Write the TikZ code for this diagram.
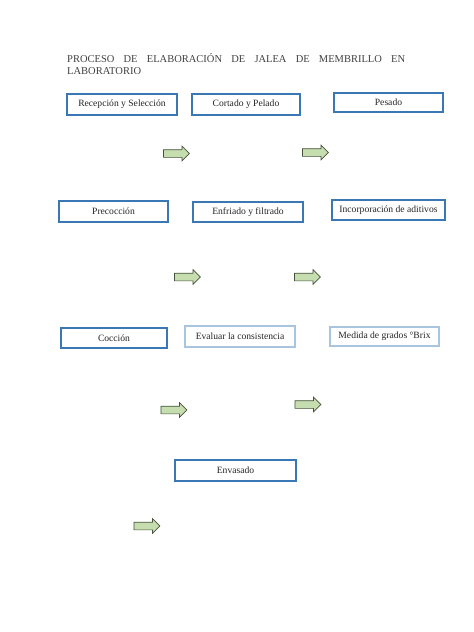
\documentclass[tikz,border=0pt]{standalone}
\usepackage{fontspec}
\setmainfont{Liberation Serif}
\usetikzlibrary{shapes.arrows}
\definecolor{boxblue}{HTML}{3A78B5}
\definecolor{lightblue}{HTML}{A9C4DE}
\definecolor{arrowfill}{HTML}{C6DDB0}
\definecolor{arrowline}{HTML}{45533A}
\begin{document}
\begin{tikzpicture}[x=1pt,y=-1pt,
	stepbox/.style={draw=boxblue, line width=1.3pt, fill=white, inner sep=0pt,
		font=\fontsize{9.6}{11}\selectfont, text=black!85},
	lightbox/.style={stepbox, draw=lightblue},
	blockarrow/.style={single arrow, draw=arrowline, fill=arrowfill, line width=0.7pt,
		minimum height=26pt, inner xsep=0pt, inner ysep=3.5pt, single arrow head extend=3.5pt}]
	\useasboundingbox (0,0) rectangle (474,632);
	\node (title) [anchor=north west, inner sep=0pt, text width=338pt, align=justify,
		font=\fontsize{10.5}{12}\selectfont, text=black!75] at (67,53)
		{PROCESO DE ELABORACIÓN DE JALEA DE MEMBRILLO EN\linebreak LABORATORIO};
	
	\node (recepcion) [stepbox, minimum width=110pt, minimum height=21pt] at (122,104.5) {Recepción y Selección};
	\node (cortado) [stepbox, minimum width=108pt, minimum height=21pt] at (246,104.5) {Cortado y Pelado};
	\node (pesado) [stepbox, minimum width=109pt, minimum height=19pt] at (388.5,102.5) {Pesado};
	\node (precoccion) [stepbox, minimum width=109pt, minimum height=21pt] at (113.5,211.5) {Precocción};
	\node (enfriado) [stepbox, minimum width=110pt, minimum height=20pt] at (248,212) {Enfriado y filtrado};
	\node (aditivos) [stepbox, minimum width=113pt, minimum height=20pt] at (388.5,210) {Incorporación de aditivos};
	\node (coccion) [stepbox, minimum width=106pt, minimum height=20pt] at (114,338) {Cocción};
	\node (evaluar) [lightbox, minimum width=110pt, minimum height=21pt] at (240,336.5) {Evaluar la consistencia};
	\node (brix) [lightbox, minimum width=109pt, minimum height=19pt] at (384.5,336.5) {Medida de grados °Brix};
	\node (envasado) [stepbox, minimum width=121pt, minimum height=21pt] at (235.5,470.5) {Envasado};
	
	\foreach \name/\pos in {a1/{(174.5,153.5)},a2/{(313.5,152.5)},a3/{(185.5,277)},a4/{(305.5,277)},
		a5/{(172,410)},a6/{(306,404.5)},a7/{(145,526)}}{% arrows
		\node (\name) [blockarrow] at \pos {};
	}
\end{tikzpicture}
\end{document}
